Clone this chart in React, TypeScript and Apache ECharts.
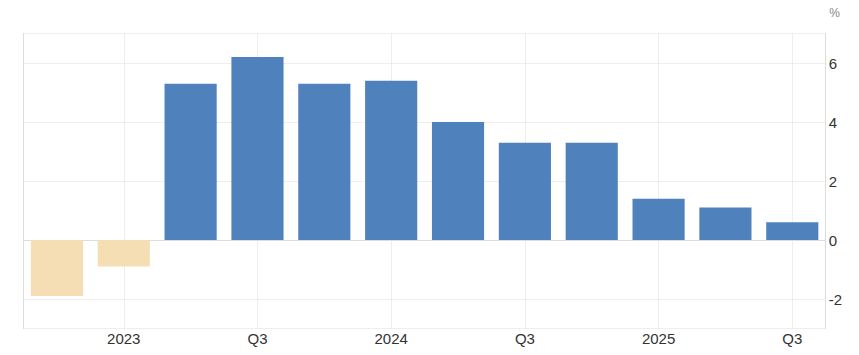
import React, { useEffect, useRef } from "react";
import * as echarts from "echarts";

const categories = [
  "2022 Q4", "2023 Q1", "2023 Q2", "2023 Q3", "2023 Q4", "2024 Q1",
  "2024 Q2", "2024 Q3", "2024 Q4", "2025 Q1", "2025 Q2", "2025 Q3",
];
const tickLabels = ["", "2023", "", "Q3", "", "2024", "", "Q3", "", "2025", "", "Q3"];
const values = [-1.9, -0.9, 5.3, 6.2, 5.3, 5.4, 4.0, 3.3, 3.3, 1.4, 1.1, 0.6];
const yTicks = [-2, 0, 2, 4, 6];

const POS = "#4f81bd";
const NEG = "#f5deb3";
const GRID = "#dddddd";
const FONT = "Arial, 'Liberation Sans', sans-serif";

export default function App() {
  const ref = useRef<HTMLDivElement>(null);
  useEffect(() => {
    document.body.style.margin = "0";
    if (!ref.current) return;
    const chart = echarts.init(ref.current, undefined, { renderer: "svg" });
    const showIdx = (i: number) => tickLabels[i] !== "";
    chart.setOption({
      animation: false,
      grid: { left: 23.5, right: 33.3, top: 33.5, bottom: 26.5, containLabel: false },
      xAxis: {
        type: "category",
        data: categories,
        boundaryGap: true,
        axisLine: { show: true, lineStyle: { color: GRID, width: 1 } },
        axisTick: { show: false, alignWithLabel: true, interval: (i: number) => showIdx(i) },
        splitLine: {
          show: true,
          alignWithLabel: true,
          interval: (i: number) => showIdx(i),
          lineStyle: { color: GRID, type: [1, 1] },
        },
        axisLabel: {
          interval: (i: number) => showIdx(i),
          formatter: (_v: string, i: number) => tickLabels[i],
          color: "#333",
          fontFamily: FONT,
          fontSize: 15,
          margin: 2,
        },
      },
      yAxis: [
        {
          type: "value",
          position: "right",
          min: -3,
          max: 7,
          splitNumber: 5,
          axisLine: { show: true, lineStyle: { color: GRID } },
          axisTick: { show: false },
          splitLine: { show: true, lineStyle: { color: GRID, type: [1, 1] } },
          axisLabel: {
            showMinLabel: false,
            showMaxLabel: false,
            formatter: (v: number) => (yTicks.includes(v) ? String(v) : ""),
            color: "#333",
            fontFamily: FONT,
            fontSize: 15,
            margin: 3,
            padding: [0, 0, 5, 0],
          },
        },
        {
          type: "value",
          position: "left",
          min: -3,
          max: 7,
          axisLine: { show: true, lineStyle: { color: GRID } },
          axisTick: { show: false },
          splitLine: { show: false },
          axisLabel: { show: false },
        },
      ],
      graphic: [
        {
          type: "text",
          right: 19,
          top: 7,
          style: { text: "%", fill: "#888", font: `12px ${FONT}` },
        },
      ],
      series: [
        {
          type: "bar",
          yAxisIndex: 0,
          barCategoryGap: "22%",
          data: values.map((v) => ({ value: v, itemStyle: { color: v < 0 ? NEG : POS } })),
        },
      ],
    });
    return () => chart.dispose();
  }, []);
  return <div ref={ref} style={{ width: 859, height: 355 }} />;
}
